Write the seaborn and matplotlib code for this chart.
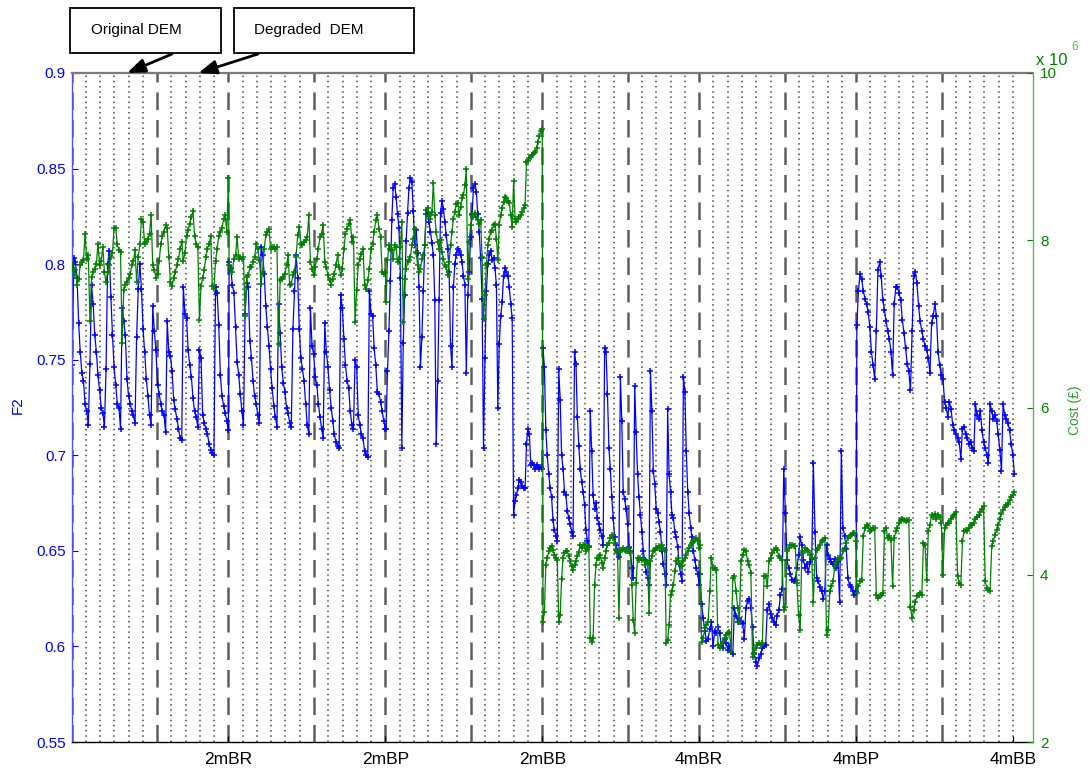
import numpy as np
import pandas as pd
import matplotlib
matplotlib.use("Agg")
import matplotlib.pyplot as plt
import seaborn as sns
from matplotlib.patches import Rectangle

sns.set_theme(style="white")
plt.rcParams['font.family'] = ['Liberation Sans', 'DejaVu Sans']

# ---------------- data ----------------
GROUP_LABELS = ["2mBR", "2mBP", "2mBB", "4mBR", "4mBP", "4mBB"]
GROUP_TICKS = [11, 22, 33, 44, 55, 66]
GROUP_START = [0, 11, 22, 33, 44, 55]
GROUP_END = [11, 22, 33, 44, 55, 66.1]
DASHED_X = [0, 6, 11, 17, 22, 28, 33, 39, 44, 50, 55, 61]
DOTTED_X = [i for i in range(1, 67) if i not in DASHED_X]
F2_TICKS = [0.55, 0.6, 0.65, 0.7, 0.75, 0.8, 0.85, 0.9]
F2_TICK_LABELS = ["0.55", "0.6", "0.65", "0.7", "0.75", "0.8", "0.85", "0.9"]
COST_TICKS = [2, 4, 6, 8, 10]
COST_TICK_LABELS = ["2", "4", "6", "8", "10"]
ANNOT_TEXT = ["Original DEM", "Degraded  DEM"]
ANNOT_TIP_X = [3.9, 8.9]

# F2 and cost (x10^6 GBP) per group, one inner list per sawtooth run
F2_2mBR = [
    [0.747, 0.803, 0.801, 0.793, 0.769, 0.754, 0.743, 0.739, 0.727, 0.723, 0.716],
    [0.748, 0.789, 0.779, 0.763, 0.754, 0.742, 0.734, 0.725, 0.722, 0.715],
    [0.745, 0.800, 0.807, 0.783, 0.763, 0.746, 0.737, 0.727, 0.725, 0.714],
    [0.777, 0.770, 0.763, 0.740, 0.731, 0.727, 0.723, 0.721, 0.717],
    [0.762, 0.787, 0.800, 0.787, 0.766, 0.754, 0.740, 0.731, 0.721, 0.716],
    [0.778, 0.765, 0.755, 0.737, 0.732, 0.727, 0.723, 0.721, 0.712],
    [0.770, 0.754, 0.752, 0.744, 0.729, 0.724, 0.719, 0.714, 0.709, 0.708],
    [0.788, 0.774, 0.772, 0.755, 0.747, 0.741, 0.730, 0.723, 0.720, 0.715],
    [0.755, 0.751, 0.721, 0.717, 0.714, 0.711, 0.706, 0.703, 0.701, 0.700],
    [0.788, 0.785, 0.768, 0.742, 0.731, 0.726, 0.722, 0.718, 0.713],
]
COST_2mBR = [
    [7.70, 7.58, 7.65, 7.46, 7.54, 7.70, 7.74, 7.76, 8.08, 7.78, 7.82],
    [7.04, 7.56, 7.62, 7.66, 7.72, 7.96, 7.70, 7.75, 7.92, 7.62],
    [7.50, 7.62, 7.70, 7.80, 7.85, 8.15, 8.15, 7.95, 7.88, 7.86],
    [6.77, 7.40, 7.47, 7.50, 7.55, 7.60, 7.70, 7.75, 7.88],
    [7.50, 7.80, 7.95, 8.25, 8.22, 7.95, 7.98, 8.02, 8.08, 8.30],
    [7.70, 7.65, 7.55, 7.60, 7.75, 7.95, 8.05, 8.10, 8.18],
    [8.15, 7.80, 7.50, 7.45, 7.55, 7.62, 7.70, 7.78, 7.90, 7.98],
    [7.75, 7.85, 8.05, 8.12, 8.20, 8.28, 8.35, 8.05, 7.95, 7.92],
    [7.05, 7.45, 7.55, 7.65, 7.80, 7.90, 7.95, 8.05, 7.45, 7.42],
    [7.75, 7.90, 8.05, 8.10, 8.15, 8.25, 8.30, 8.10, 8.75],
]
F2_2mBP = [
    [0.801, 0.798, 0.789, 0.785, 0.767, 0.749, 0.742, 0.732, 0.723, 0.716],
    [0.774, 0.790, 0.788, 0.760, 0.751, 0.739, 0.731, 0.727, 0.721, 0.717],
    [0.809, 0.805, 0.795, 0.778, 0.767, 0.757, 0.745, 0.735, 0.726, 0.720, 0.715],
    [0.779, 0.764, 0.746, 0.738, 0.733, 0.725, 0.722, 0.717, 0.715],
    [0.766, 0.786, 0.805, 0.793, 0.766, 0.751, 0.745, 0.739, 0.727, 0.716, 0.711],
    [0.777, 0.757, 0.753, 0.741, 0.737, 0.727, 0.720, 0.714, 0.709],
    [0.769, 0.754, 0.746, 0.734, 0.725, 0.718, 0.711, 0.707, 0.705, 0.704],
    [0.784, 0.777, 0.761, 0.747, 0.739, 0.735, 0.723, 0.716, 0.714],
    [0.750, 0.746, 0.721, 0.716, 0.711, 0.709, 0.702, 0.700, 0.699],
    [0.786, 0.774, 0.773, 0.756, 0.747, 0.733, 0.732, 0.728, 0.723, 0.718, 0.714],
]
COST_2mBP = [
    [7.70, 7.66, 7.62, 7.78, 7.82, 8.04, 7.78, 7.80, 7.78, 7.80],
    [7.10, 7.56, 7.58, 7.68, 7.68, 7.74, 7.80, 7.96, 7.90, 7.76],
    [7.48, 7.62, 7.90, 8.06, 8.10, 8.14, 7.90, 7.92, 7.92, 7.90, 7.92],
    [6.76, 7.52, 7.54, 7.56, 7.60, 7.70, 7.82, 7.46, 7.48],
    [7.58, 7.62, 7.80, 8.06, 8.16, 7.96, 7.94, 7.98, 8.00, 8.04, 8.30],
    [7.74, 7.66, 7.58, 7.68, 7.78, 7.90, 8.04, 8.08, 8.18],
    [7.74, 7.68, 7.58, 7.52, 7.46, 7.54, 7.60, 7.70, 7.82, 7.68],
    [7.58, 7.66, 7.90, 8.08, 8.14, 8.20, 8.24, 7.98, 8.04],
    [7.02, 7.40, 7.70, 7.78, 7.84, 7.90, 7.46, 7.42, 7.52],
    [7.66, 7.90, 7.96, 8.10, 8.24, 8.30, 8.14, 8.04, 7.62, 7.60, 7.62],
]
F2_2mBB = [
    [0.714, 0.744, 0.765, 0.791, 0.823, 0.840, 0.842, 0.835, 0.826, 0.819, 0.793, 0.704],
    [0.759, 0.784, 0.812, 0.827, 0.840, 0.845, 0.843, 0.828, 0.810, 0.818, 0.806, 0.788, 0.746],
    [0.762, 0.786, 0.810, 0.826, 0.827, 0.822, 0.817, 0.811, 0.805, 0.781, 0.706],
    [0.739, 0.781, 0.827, 0.833, 0.829, 0.822, 0.815, 0.808, 0.796, 0.757, 0.746],
    [0.788, 0.800, 0.805, 0.808, 0.807, 0.805, 0.801, 0.794, 0.789, 0.743],
    [0.784, 0.796, 0.814, 0.826, 0.840, 0.842, 0.838, 0.826, 0.817, 0.803, 0.782, 0.704],
    [0.751, 0.786, 0.800, 0.805, 0.807, 0.802, 0.803, 0.798, 0.789, 0.725],
    [0.758, 0.773, 0.780, 0.794, 0.798, 0.796, 0.794, 0.788, 0.779, 0.772, 0.669],
    [0.676, 0.679, 0.683, 0.687, 0.686, 0.684, 0.683, 0.683, 0.706, 0.714, 0.711, 0.695,
     0.696, 0.695, 0.693, 0.695, 0.694, 0.693, 0.694, 0.693],
]
COST_2mBB = [
    [7.26, 7.76, 7.94, 7.90, 7.88, 7.78, 7.94, 7.92, 7.74, 7.78, 7.92, 8.22],
    [7.02, 7.54, 7.66, 7.74, 7.76, 7.80, 7.94, 8.02, 8.14, 7.86, 7.70, 7.62, 7.66],
    [7.78, 7.82, 7.94, 8.36, 8.38, 8.30, 8.26, 8.34, 8.69, 8.30, 8.10],
    [7.98, 7.90, 8.00, 7.86, 7.78, 7.70, 7.68, 7.58, 7.74, 7.94, 8.10],
    [8.26, 8.34, 8.43, 8.45, 8.30, 8.40, 8.50, 8.54, 8.66, 8.85],
    [7.54, 7.98, 8.18, 8.30, 8.28, 8.32, 8.28, 8.24, 8.20, 8.24, 7.80, 7.06],
    [7.34, 7.70, 7.94, 8.02, 8.10, 8.12, 8.18, 8.20, 8.02, 7.76],
    [8.18, 8.30, 8.38, 8.46, 8.52, 8.50, 8.47, 8.44, 8.30, 8.16, 8.71],
    [8.26, 8.22, 8.26, 8.28, 8.30, 8.34, 8.38, 8.42, 8.93, 8.95, 8.98, 9.00,
     9.02, 9.04, 9.06, 9.10, 9.18, 9.25, 9.31, 9.33],
]
F2_4mBR = [
    [0.756, 0.746, 0.713, 0.700, 0.690, 0.683, 0.678, 0.666, 0.661, 0.658, 0.655],
    [0.745, 0.729, 0.700, 0.693, 0.681, 0.679, 0.671, 0.667, 0.664, 0.660, 0.658],
    [0.754, 0.748, 0.720, 0.705, 0.693, 0.686, 0.681, 0.674, 0.661, 0.655, 0.652],
    [0.723, 0.702, 0.679, 0.672, 0.675, 0.667, 0.664, 0.661, 0.658, 0.653],
    [0.756, 0.754, 0.732, 0.704, 0.693, 0.678, 0.667, 0.657, 0.653, 0.650, 0.647],
    [0.741, 0.718, 0.681, 0.677, 0.672, 0.664, 0.652, 0.650, 0.641, 0.636],
    [0.736, 0.712, 0.690, 0.678, 0.669, 0.660, 0.650, 0.645, 0.639, 0.636, 0.632],
    [0.744, 0.723, 0.692, 0.685, 0.672, 0.670, 0.665, 0.660, 0.650, 0.643, 0.638, 0.632],
    [0.724, 0.690, 0.681, 0.669, 0.667, 0.660, 0.657, 0.652, 0.643, 0.638, 0.634],
    [0.741, 0.733, 0.702, 0.681, 0.670, 0.662, 0.657, 0.650, 0.645, 0.641, 0.638, 0.632],
]
COST_4mBR = [
    [3.44, 3.56, 4.12, 4.20, 4.28, 4.32, 4.34, 4.30, 4.24, 4.20, 4.18],
    [3.44, 3.52, 3.95, 4.20, 4.26, 4.28, 4.28, 4.22, 4.17, 4.10, 4.06],
    [4.12, 4.16, 4.22, 4.27, 4.36, 4.32, 4.36, 4.36, 4.28, 4.32, 4.34],
    [3.24, 3.20, 3.24, 3.88, 4.12, 4.20, 4.20, 4.24, 4.14, 4.08],
    [4.20, 4.28, 4.36, 4.38, 4.44, 4.48, 4.44, 4.38, 4.30, 4.26, 3.48],
    [4.28, 4.30, 4.32, 4.30, 4.28, 4.28, 4.32, 4.26, 3.88, 3.46],
    [3.30, 3.90, 4.20, 4.18, 4.20, 4.18, 4.20, 4.12, 4.16, 4.14, 3.54],
    [4.16, 4.22, 4.28, 4.30, 4.32, 4.32, 4.34, 4.32, 4.36, 4.32, 4.30, 3.18],
    [3.22, 3.40, 3.76, 3.80, 3.88, 4.04, 4.16, 4.20, 4.14, 4.10, 4.10],
    [4.16, 4.20, 4.24, 4.28, 4.32, 4.36, 4.38, 4.40, 4.42, 4.44, 4.40, 4.32],
]
F2_4mBP = [
    [0.638, 0.622, 0.615, 0.608, 0.603, 0.604, 0.609, 0.613, 0.600, 0.608, 0.607],
    [0.610, 0.607, 0.601, 0.599, 0.604, 0.602, 0.598, 0.600, 0.597, 0.596],
    [0.620, 0.616, 0.613, 0.615, 0.613, 0.612, 0.604, 0.620, 0.624, 0.625, 0.620],
    [0.610, 0.596, 0.592, 0.590, 0.594, 0.596, 0.599, 0.600, 0.601, 0.619],
    [0.622, 0.617, 0.615, 0.613, 0.611, 0.616, 0.619, 0.627, 0.630, 0.693],
    [0.670, 0.645, 0.641, 0.638, 0.635, 0.634, 0.635, 0.641, 0.648],
    [0.657, 0.653, 0.645, 0.641, 0.643, 0.639, 0.644, 0.646, 0.696],
    [0.660, 0.636, 0.634, 0.631, 0.629, 0.625, 0.629, 0.653],
    [0.648, 0.646, 0.644, 0.643, 0.646, 0.641, 0.644, 0.623],
    [0.702, 0.662, 0.658, 0.651, 0.636, 0.632, 0.631, 0.629, 0.627, 0.629],
]
COST_4mBP = [
    [4.36, 3.20, 3.24, 3.36, 3.40, 3.44, 3.80, 4.20, 4.08, 4.08, 4.06],
    [3.16, 3.12, 3.16, 3.20, 3.24, 3.28, 3.30, 3.32, 3.08, 3.96],
    [3.98, 3.80, 3.60, 3.44, 4.16, 4.24, 4.30, 4.28, 4.16, 4.12, 4.02],
    [3.02, 3.06, 3.12, 3.16, 3.18, 3.16, 3.18, 3.98, 3.98, 3.86],
    [4.16, 4.20, 4.26, 4.30, 4.32, 4.30, 4.22, 4.20, 4.18, 3.58],
    [3.62, 4.28, 4.32, 4.36, 4.36, 4.34, 4.34, 3.90, 3.52],
    [3.34, 4.28, 4.26, 4.32, 4.30, 4.28, 4.24, 4.20, 3.68],
    [4.20, 4.30, 4.32, 4.36, 4.40, 4.42, 4.44, 3.28],
    [3.34, 3.80, 3.86, 3.92, 4.10, 4.14, 4.20, 4.20],
    [4.20, 4.28, 4.32, 4.38, 4.44, 4.46, 4.48, 4.50, 4.50, 4.40],
]
F2_4mBB = [
    [0.768, 0.786, 0.795, 0.792, 0.786, 0.782, 0.779, 0.775, 0.767, 0.754, 0.747, 0.740],
    [0.765, 0.797, 0.801, 0.794, 0.781, 0.776, 0.770, 0.765, 0.761, 0.754, 0.742],
    [0.779, 0.788, 0.788, 0.785, 0.781, 0.771, 0.764, 0.756, 0.748, 0.744, 0.734],
    [0.765, 0.794, 0.796, 0.790, 0.778, 0.770, 0.765, 0.761, 0.757, 0.755, 0.751, 0.743],
    [0.769, 0.773, 0.779, 0.773, 0.754, 0.747, 0.742, 0.740, 0.728, 0.725, 0.720],
    [0.728, 0.724, 0.716, 0.713, 0.711, 0.709, 0.707, 0.698],
    [0.714, 0.715, 0.711, 0.709, 0.706, 0.707, 0.704, 0.702],
    [0.727, 0.721, 0.719, 0.723, 0.713, 0.707, 0.704, 0.700, 0.696],
    [0.727, 0.723, 0.719, 0.721, 0.718, 0.711, 0.703, 0.692],
    [0.727, 0.721, 0.719, 0.717, 0.713, 0.706, 0.700, 0.690],
]
COST_4mBB = [
    [3.78, 3.86, 3.92, 3.94, 4.46, 4.56, 4.60, 4.58, 4.52, 4.54, 4.56, 4.56],
    [3.76, 3.72, 3.74, 3.76, 3.78, 4.52, 4.56, 4.44, 4.46, 4.42, 3.86],
    [4.44, 4.52, 4.56, 4.62, 4.65, 4.67, 4.66, 4.64, 4.65, 4.65, 3.62],
    [3.48, 3.58, 3.68, 3.74, 3.76, 3.78, 3.76, 4.38, 4.36, 3.94, 4.52, 4.60],
    [4.71, 4.69, 4.73, 4.67, 4.71, 4.69, 4.62, 4.00, 4.56, 4.60, 4.62],
    [4.62, 4.67, 4.70, 4.72, 4.75, 3.98, 3.90, 3.88],
    [4.40, 4.52, 4.54, 4.52, 4.56, 4.60, 4.60, 4.62],
    [4.67, 4.69, 4.71, 4.75, 4.79, 4.82, 3.92, 3.84, 3.82],
    [3.80, 4.34, 4.40, 4.48, 4.54, 4.60, 4.67, 4.73],
    [4.77, 4.81, 4.83, 4.85, 4.89, 4.93, 4.95, 4.99],
]

F2_GROUPS = [F2_2mBR, F2_2mBP, F2_2mBB, F2_4mBR, F2_4mBP, F2_4mBB]
COST_GROUPS = [COST_2mBR, COST_2mBP, COST_2mBB, COST_4mBR, COST_4mBP, COST_4mBB]

# -------- build table ----------
rows = []
for g, (f2g, cg) in enumerate(zip(F2_GROUPS, COST_GROUPS)):
    f2 = [v for run in f2g for v in run]
    co = [v for run in cg for v in run]
    xs = np.linspace(GROUP_START[g] + 0.05, GROUP_END[g], len(f2))
    for x, a, b in zip(xs, f2, co):
        rows.append((x, a, b))
df = pd.DataFrame(rows, columns=["solution", "F2", "cost"])

# -------- figure ----------
W, H = 1090, 769
fig = plt.figure(figsize=(W / 100, H / 100), dpi=100)
fig.patch.set_facecolor("white")
ax = fig.add_axes([71.5 / W, 1 - 742 / H, (1033 - 71.5) / W, (742 - 73) / H])
ax.set_facecolor("white")

for x in DOTTED_X:
    ax.axvline(x, color="#444444", lw=1.1, linestyle=(0, (1, 2.4)), zorder=0)
for x in DASHED_X:
    ax.axvline(x, color="#5e5e5e", lw=1.8, linestyle=(0, (7, 4)), zorder=0.5)

BLUE = "#0000ff"
GREEN = "#008000"
sns.lineplot(data=df, x="solution", y="F2", ax=ax, color=BLUE, lw=0.9,
             marker="+", markersize=4.5, markeredgewidth=1.1,
             markeredgecolor=BLUE, estimator=None, sort=False, zorder=2)

ax2 = ax.twinx()
sns.lineplot(data=df, x="solution", y="cost", ax=ax2, color=GREEN, lw=0.9,
             marker="+", markersize=4.5, markeredgewidth=1.1,
             markeredgecolor=GREEN, estimator=None, sort=False, zorder=2)

ax.set_xlim(0, 67.4)
ax.set_ylim(0.55, 0.9)
ax2.set_ylim(2, 10)
ax.set_xlabel("")
ax.set_ylabel("")
ax2.set_ylabel("")

ax.set_xticks(GROUP_TICKS)
ax.set_xticklabels(GROUP_LABELS)
ax.set_yticks(F2_TICKS)
ax.set_yticklabels(F2_TICK_LABELS)
ax2.set_yticks(COST_TICKS)
ax2.set_yticklabels(COST_TICK_LABELS)

ax.tick_params(axis="x", bottom=True, top=False, direction="in", length=4,
               width=0.8, pad=7, labelsize=12.5, colors="black")
ax.tick_params(axis="y", left=True, right=False, direction="in", length=4,
               width=0.8, pad=4, labelsize=11, colors=BLUE)
ax2.tick_params(axis="y", right=True, left=False, direction="in", length=4,
                width=0.8, pad=5, labelsize=11, colors=GREEN)

ax.spines["top"].set_color("#7a7a7a")
ax.spines["top"].set_linewidth(1.6)
ax.spines["bottom"].set_color("black")
ax.spines["bottom"].set_linewidth(1.0)
ax.spines["left"].set_color("#5050ff")
ax.spines["left"].set_linewidth(1.0)
ax.spines["right"].set_visible(False)
for s in ["left", "top", "bottom"]:
    ax2.spines[s].set_visible(False)
ax2.spines["right"].set_color("#5cb85c")
ax2.spines["right"].set_linewidth(1.0)

# axis titles
fig.text(18 / W, 1 - 405 / H, "F2", rotation=90, ha="center", va="center",
         color=BLUE, fontsize=11)
fig.text(1075 / W, 1 - 410 / H, "Cost (£)", rotation=90, ha="center",
         va="center", color="#2ca02c", fontsize=10)
fig.text(1036 / W, 1 - 65 / H, "x 10", ha="left", va="baseline",
         color=GREEN, fontsize=12)
fig.text(1071 / W, 1 - 50 / H, "6", ha="left", va="baseline",
         color="#5cb85c", fontsize=8.5)

# annotation boxes and arrows
boxes = [(70, 221, 91), (234, 414, 254)]
starts = [(172, 54), (258, 54)]
for (l, r, tx), text, (sx, sy), tip in zip(boxes, ANNOT_TEXT, starts, ANNOT_TIP_X):
    fig.patches.append(Rectangle((l / W, 1 - 53 / H), (r - l) / W, 45 / H,
                                 transform=fig.transFigure, facecolor="white",
                                 edgecolor="black", lw=1.3))
    fig.text(tx / W, 1 - 30 / H, text, ha="left", va="center",
             fontsize=11, color="black")
    ax.annotate("", xy=(tip, 0.9), xycoords="data",
                xytext=(sx / W, 1 - sy / H), textcoords="figure fraction",
                arrowprops=dict(arrowstyle="-|>,head_length=0.9,head_width=0.35",
                                color="black", lw=2, shrinkA=0, shrinkB=0),
                annotation_clip=False)

fig.savefig("out.png", dpi=100)
